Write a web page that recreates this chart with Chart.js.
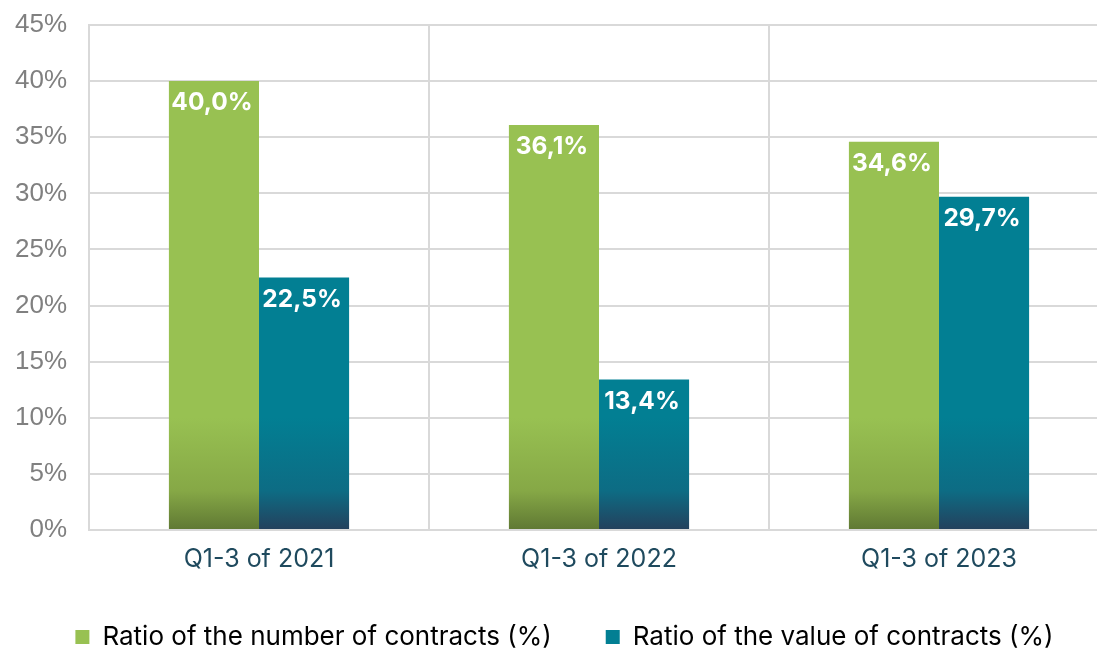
<!DOCTYPE html>
<html>
<head>
<meta charset="utf-8">
<script src="https://cdn.jsdelivr.net/npm/chart.js@4/dist/chart.umd.min.js"></script>
<style>
  html, body { margin: 0; padding: 0; background: #fff; overflow: hidden; }
  #wrap { position: absolute; left: 0; top: 0; width: 1109px; height: 651px; }
</style>
</head>
<body>
<div id="wrap"><canvas id="chart"></canvas></div>
<script>
const categories = ["Q1-3 of 2021", "Q1-3 of 2022", "Q1-3 of 2023"];
const numberRatio = [40.0, 36.1, 34.6];
const valueRatio = [22.5, 13.4, 29.7];
const seriesNames = ["Ratio of the number of contracts (%)", "Ratio of the value of contracts (%)"];

function fmt(v) {
  return v.toFixed(1).replace(".", ",") + "%";
}

// bar fill: flat colour that darkens towards the baseline
function barFill(top, mid, bottom) {
  return (ctx) => {
    const chart = ctx.chart;
    const area = chart.chartArea;
    if (!area) return top;
    const y = chart.scales.y;
    const y0 = y.getPixelForValue(0);
    const y1 = y.getPixelForValue(10);
    const g = chart.ctx.createLinearGradient(0, y1, 0, y0);
    g.addColorStop(0, top);
    g.addColorStop(0.65, mid);
    g.addColorStop(1, bottom);
    return g;
  };
}

const valueLabels = {
  id: "valueLabels",
  afterDatasetsDraw(chart) {
    const c = chart.ctx;
    c.save();
    c.fillStyle = "#ffffff";
    c.font = "bold 24.5px Inter, 'Liberation Sans', sans-serif";
    c.textAlign = "center";
    c.textBaseline = "middle";
    chart.data.datasets.forEach((ds, i) => {
      chart.getDatasetMeta(i).data.forEach((bar, j) => {
        c.fillText(fmt(ds.data[j]), bar.x - 2, bar.y + 22);
      });
    });
    c.restore();
  }
};

// fixed legend block height, nudged right a little
const legendTweak = {
  id: "legendTweak",
  beforeInit(chart) {
    const lg = chart.legend;
    if (!lg) return;
    const fit = lg.fit;
    lg.fit = function () {
      fit.call(this);
      this.height = 81;
    };
  },
  afterLayout(chart) {
    const lg = chart.legend;
    if (!lg) return;
    lg.left += 10;
    lg.right += 10;
  }
};

new Chart(document.getElementById("chart"), {
  type: "bar",
  data: {
    labels: categories,
    datasets: [
      {
        label: seriesNames[0],
        data: numberRatio,
        backgroundColor: barFill("#98c152", "#86a846", "#5f7833")
      },
      {
        label: seriesNames[1],
        data: valueRatio,
        backgroundColor: barFill("#027f93", "#0d6c84", "#24405c")
      }
    ]
  },
  options: {
    responsive: true,
    maintainAspectRatio: false,
    animation: false,
    categoryPercentage: 0.53,
    barPercentage: 1,
    layout: { padding: { top: 25, right: 0, left: 0, bottom: 0 } },
    plugins: {
      tooltip: { enabled: false },
      legend: {
        position: "bottom",
        labels: {
          color: "#1f4a5e",
          font: { family: "Inter, 'Liberation Sans', sans-serif", size: 26 },
          boxWidth: 14,
          boxHeight: 14,
          padding: 54,
          generateLabels(chart) {
            return chart.data.datasets.map((ds, i) => ({
              text: ds.label,
              fillStyle: i === 0 ? "#98c152" : "#027f93",
              strokeStyle: "transparent",
              lineWidth: 0,
              datasetIndex: i
            }));
          }
        }
      }
    },
    scales: {
      x: {
        grid: { color: "#d9d9d9", lineWidth: 2, drawTicks: false, offset: true },
        border: { display: false },
        ticks: {
          color: "#1f4a5e",
          font: { family: "Inter, 'Liberation Sans', sans-serif", size: 25 },
          padding: 14
        },
        afterFit(s) { s.height = 40; }
      },
      y: {
        min: 0,
        max: 45,
        grid: { color: "#d9d9d9", lineWidth: 2, drawTicks: false },
        border: { color: "#d9d9d9", width: 2 },
        ticks: {
          stepSize: 5,
          color: "#808080",
          font: { family: "'Liberation Sans', sans-serif", size: 26 },
          padding: 22,
          callback: (v) => v + "%"
        },
        afterFit(s) {
          s.width = 89;
          s.paddingTop = 0;
          s.paddingBottom = 0;
        }
      }
    }
  },
  plugins: [valueLabels, legendTweak]
});
</script>
</body>
</html>
